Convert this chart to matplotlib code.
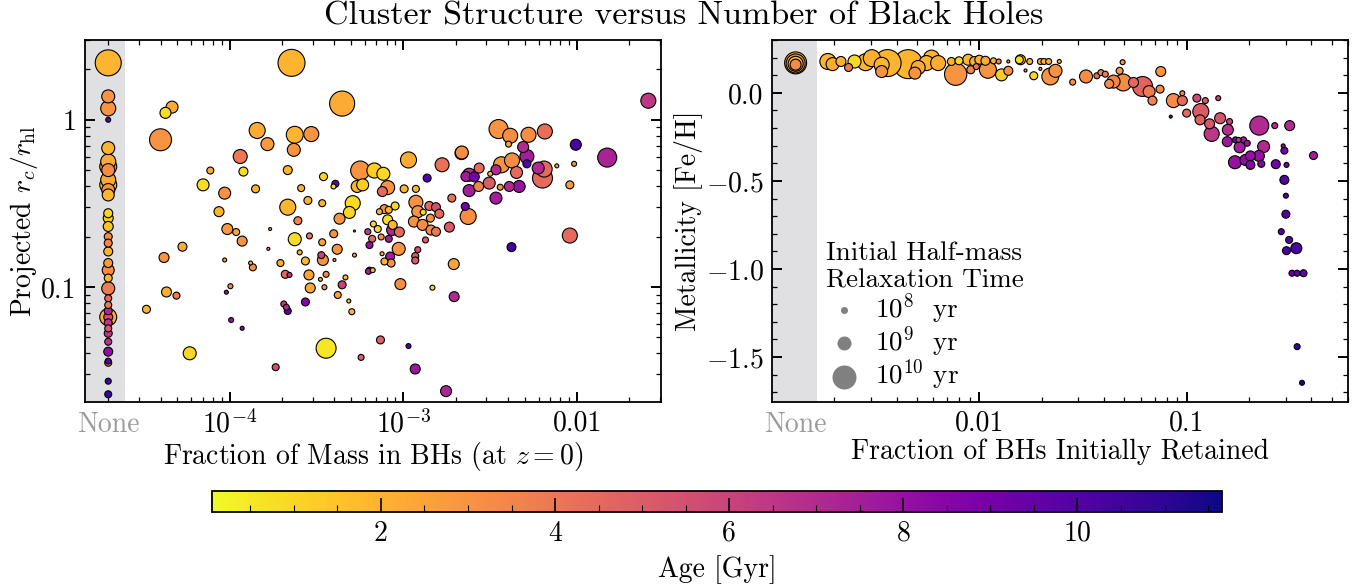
import numpy as np
import matplotlib
matplotlib.use('Agg')
import matplotlib.pyplot as plt
from matplotlib.colors import Normalize
from matplotlib.ticker import LogLocator, NullFormatter, MultipleLocator, FixedLocator, FixedFormatter

plt.rcParams['font.family'] = 'serif'
plt.rcParams['font.serif'] = ['cmr10']
plt.rcParams['mathtext.fontset'] = 'cm'
plt.rcParams['axes.formatter.use_mathtext'] = True
plt.rcParams['axes.unicode_minus'] = False
plt.rcParams['font.size'] = 20

#%% Data. Fraction 0 means "None".
# left panel: fraction of mass in BHs, r_c/r_hl, age [Gyr], log10 t_rh [yr]
left_fbh = [0] * 36 + [
    2.27e-4, 4.27e-5, 4.66e-5, 4.0e-5, 1.44e-4, 1.65e-4, 2.37e-4, 2.95e-4, 2.34e-4, 1.15e-4,
    7.74e-5, 1.2e-4, 2.16e-4, 7.03e-5, 1.41e-4, 9.36e-5, 2.58e-4, 2.16e-4, 2.82e-4, 3.47e-4,
    3.41e-4, 4.06e-4, 8.68e-5, 9.7e-5, 1.09e-4, 1.18e-4, 2.37e-4, 2.47e-4, 1.71e-4, 1.67e-4,
    2.88e-4, 3.41e-4, 5.35e-5, 4.19e-5, 4.33e-5, 4.94e-5, 3.32e-5, 9.36e-5, 1.32e-4, 1.36e-4,
    1.01e-4, 9.57e-5, 2.53e-4, 2.73e-4, 1.96e-4, 2.86e-4, 2.91e-4, 2.09e-4, 2.21e-4, 2.05e-4,
    2.12e-4, 2.16e-4, 2.73e-4, 1.02e-4, 1.18e-4, 5.89e-5, 1.84e-4, 3.33e-4, 3.51e-4, 3.59e-4,
    3.44e-4, 3.59e-4, 3.37e-4, 1.07e-3, 2.16e-3, 1.67e-3, 5.64e-4, 6.81e-4, 7.67e-4, 3.96e-4,
    5.42e-4, 5.83e-4, 8.12e-4, 7.57e-4, 1.01e-3, 1.18e-3, 1.37e-3, 5.11e-4, 4.89e-4, 4.29e-4,
    8.96e-4, 7.28e-4, 7.78e-4, 8.24e-4, 1.18e-3, 1.41e-3, 1.54e-3, 1.61e-3, 1.21e-3, 1.30e-3,
    1.90e-3, 1.84e-3, 2.36e-3, 2.27e-3, 1.15e-3, 1.29e-3, 1.44e-3, 1.54e-3, 1.43e-3, 8.12e-4,
    8.68e-4, 8.61e-4, 9.48e-4, 6.72e-4, 7.12e-4, 6.24e-4, 6.61e-4, 7.45e-4, 8.24e-4, 6.38e-4,
    3.97e-4, 5.23e-4, 4.16e-4, 9.4e-4, 1.21e-3, 1.17e-3, 1.17e-3, 1.34e-3, 8.39e-4, 7.78e-4,
    8.5e-4, 7.54e-4, 5.23e-4, 4.01e-4, 1.95e-3, 6.38e-4, 6.29e-4, 6.66e-4, 4.64e-4, 4.44e-4,
    4.19e-4, 4.85e-4, 5.05e-4, 9.61e-4, 1.47e-3, 1.96e-3, 4.19e-3, 3.67e-3, 2.39e-3, 2.29e-3,
    2.56e-3, 2.73e-3, 3.12e-3, 2.71e-3, 2.39e-3, 3.16e-3, 3.41e-3, 3.61e-3, 4.07e-3, 4.44e-4,
    0.0257, 3.53e-3, 4.12e-3, 4.03e-3, 5.25e-3, 6.52e-3, 9.83e-3, 0.0149, 7.64e-3, 9.61e-3,
    9.08e-3, 4.89e-3, 5.14e-3, 5.14e-3, 6.32e-3, 6.46e-3, 5.97e-3, 4.22e-3, 4.48e-3, 4.64e-3,
    2.17e-3, 9.08e-3, 7.38e-4, 5.71e-4, 1.07e-3, 1.17e-3, 1.76e-3, 3.41e-3]
left_rc = [
    2.19, 1.38, 1.17, 1.00, 0.677, 0.563, 0.525, 0.50, 0.437, 0.408,
    0.38, 0.355, 0.276, 0.258, 0.23, 0.20, 0.183, 0.163, 0.139, 0.126,
    0.113, 0.098, 0.0855, 0.078, 0.072, 0.066, 0.066, 0.061, 0.0565, 0.0528,
    0.047, 0.041, 0.0352, 0.036, 0.0273, 0.0228,
    2.19, 1.10, 1.19, 0.759, 0.863, 0.715, 0.813, 0.821, 0.661, 0.603,
    0.497, 0.49, 0.50, 0.408, 0.386, 0.364, 0.390, 0.300, 0.329, 0.457,
    0.317, 0.414, 0.282, 0.222, 0.213, 0.188, 0.193, 0.249, 0.222, 0.169,
    0.202, 0.185, 0.174, 0.150, 0.0933, 0.0887, 0.0735, 0.145, 0.139, 0.131,
    0.101, 0.093, 0.161, 0.143, 0.139, 0.118, 0.0986, 0.119, 0.118, 0.0791,
    0.0756, 0.0718, 0.0813, 0.0634, 0.0566, 0.0401, 0.0331, 0.111, 0.0996, 0.119,
    0.145, 0.043, 0.155, 0.575, 0.632, 0.538, 0.497, 0.497, 0.475, 0.399,
    0.399, 0.408, 0.393, 0.372, 0.386, 0.386, 0.448, 0.317, 0.279, 0.256,
    0.305, 0.282, 0.292, 0.289, 0.321, 0.305, 0.300, 0.274, 0.282, 0.280,
    0.340, 0.228, 0.264, 0.303, 0.246, 0.235, 0.219, 0.214, 0.258, 0.252,
    0.235, 0.219, 0.213, 0.238, 0.222, 0.214, 0.194, 0.199, 0.194, 0.178,
    0.208, 0.216, 0.168, 0.169, 0.167, 0.153, 0.144, 0.191, 0.152, 0.142,
    0.139, 0.158, 0.155, 0.145, 0.137, 0.126, 0.124, 0.126, 0.114, 0.103,
    0.0895, 0.0824, 0.0711, 0.104, 0.099, 0.0875, 0.173, 0.538, 0.469, 0.458,
    0.456, 0.514, 0.418, 0.399, 0.377, 0.475, 0.340, 0.395, 0.399, 1.25,
    1.30, 0.880, 0.802, 0.715, 0.813, 0.851, 0.709, 0.594, 0.530, 0.545,
    0.408, 0.687, 0.603, 0.545, 0.448, 0.507, 0.514, 0.571, 0.484, 0.399,
    0.637, 0.203, 0.0482, 0.0379, 0.0443, 0.0323, 0.0238, 0.502]
left_age = [
    2.0, 3.0, 3.0, 10.0, 2.0, 2.2, 3.0, 3.2, 2.3, 1.8,
    3.0, 2.0, 1.0, 1.2, 1.5, 3.2, 3.5, 2.0, 2.8, 3.3,
    2.0, 3.8, 4.5, 4.0, 7.0, 2.2, 5.5, 6.5, 5.0, 6.5,
    6.7, 8.2, 3.5, 10.0, 10.5, 10.8,
    2.0, 0.8, 2.2, 3.0, 2.2, 2.8, 2.0, 3.0, 3.0, 4.0,
    2.2, 0.8, 2.0, 0.8, 2.0, 3.0, 2.0, 2.0, 2.0, 1.0,
    2.0, 9.5, 2.0, 2.8, 2.3, 3.0, 0.8, 3.5, 3.0, 3.0,
    4.0, 2.5, 2.2, 3.0, 2.2, 3.8, 2.0, 2.5, 2.5, 3.0,
    3.2, 8.0, 2.0, 2.0, 2.2, 2.5, 2.3, 4.5, 6.5, 6.3,
    7.0, 9.5, 8.5, 8.0, 8.5, 1.0, 5.5, 2.5, 2.8, 3.5,
    3.0, 0.6, 6.0, 2.2, 4.0, 4.2, 3.0, 1.2, 0.9, 0.8,
    2.0, 1.2, 3.0, 4.5, 2.0, 2.0, 10.0, 0.9, 1.0, 3.0,
    1.0, 2.0, 3.0, 2.0, 3.0, 4.5, 5.5, 4.5, 3.0, 1.0,
    4.2, 5.0, 3.2, 9.0, 3.0, 3.2, 3.3, 4.0, 3.0, 0.8,
    2.0, 7.0, 4.5, 1.0, 1.0, 6.2, 4.5, 3.0, 7.5, 8.0,
    3.0, 3.0, 3.0, 3.0, 5.5, 5.0, 5.0, 4.8, 7.5, 2.0,
    3.0, 2.0, 2.5, 2.5, 2.5, 9.0, 7.5, 2.0, 2.0, 6.0,
    2.5, 2.0, 2.0, 3.2, 0.8, 7.0, 10.5, 3.0, 7.0, 7.5,
    9.0, 4.5, 5.0, 3.5, 7.5, 2.0, 7.5, 3.0, 7.0, 2.2,
    6.5, 3.0, 3.2, 2.5, 3.2, 4.3, 10.3, 7.3, 2.5, 3.0,
    2.8, 7.0, 7.5, 10.0, 4.5, 4.5, 7.0, 3.2, 4.5, 8.0,
    3.2, 4.5, 4.8, 5.0, 10.0, 7.8, 7.2, 7.0]
left_logtrh = [
    10.17, 8.88, 9.12, 7.59, 8.88, 9.12, 9.33, 8.88, 9.12, 9.33,
    8.88, 8.75, 8.33, 8.48, 8.48, 8.17, 8.17, 8.33, 8.33, 8.75,
    8.17, 8.88, 8.0, 8.0, 8.17, 9.33, 8.33, 8.17, 8.0, 8.17,
    8.0, 8.33, 8.0, 7.81, 7.81, 8.0,
    10.25, 8.62, 8.75, 9.82, 9.23, 8.88, 9.33, 9.12, 8.88, 9.0,
    8.0, 8.33, 8.33, 8.75, 8.17, 8.75, 8.0, 9.23, 8.17, 8.17,
    8.0, 8.0, 8.48, 8.62, 8.0, 8.48, 8.88, 8.17, 7.0, 7.0,
    7.81, 8.0, 8.33, 8.48, 8.48, 8.0, 8.17, 7.33, 7.33, 8.0,
    7.59, 7.33, 7.59, 8.17, 8.0, 8.48, 8.48, 8.17, 7.59, 7.81,
    7.81, 8.0, 8.17, 7.59, 7.33, 8.88, 8.0, 7.33, 7.59, 7.81,
    8.62, 9.63, 8.0, 9.23, 8.88, 9.0, 9.54, 9.12, 8.88, 7.59,
    8.75, 8.75, 9.0, 8.48, 8.17, 8.0, 8.17, 9.12, 8.75, 8.62,
    8.17, 7.81, 8.33, 8.0, 9.0, 8.33, 8.33, 8.33, 8.75, 7.81,
    8.17, 8.48, 9.23, 8.17, 8.62, 8.62, 8.48, 8.33, 8.17, 8.48,
    8.33, 8.62, 8.48, 7.81, 8.0, 7.81, 8.0, 7.81, 8.0, 8.0,
    8.17, 6.33, 8.48, 8.88, 7.81, 8.0, 8.0, 7.81, 8.33, 8.0,
    8.17, 7.33, 7.33, 7.0, 8.62, 7.81, 7.81, 7.59, 7.59, 8.17,
    8.0, 7.33, 7.81, 8.62, 7.59, 8.48, 8.33, 9.23, 8.88, 8.48,
    8.48, 8.48, 8.75, 8.48, 8.75, 7.59, 8.75, 7.81, 8.48, 10.09,
    9.12, 9.54, 9.12, 7.81, 9.12, 9.12, 8.62, 9.54, 7.33, 7.59,
    8.17, 8.62, 9.0, 8.17, 9.63, 9.23, 8.75, 9.12, 8.75, 8.75,
    8.88, 9.12, 8.17, 7.81, 7.59, 8.48, 8.62, 8.48]

# right panel: fraction of BHs initially retained, [Fe/H], age [Gyr], log10 t_rh [yr]
right_fret = [0] * 4 + [
    1.86e-3, 1.96e-3, 2.15e-3, 2.34e-3, 2.50e-3, 2.83e-3, 3.03e-3, 3.38e-3, 3.61e-3, 4.54e-3,
    5.07e-3, 5.56e-3, 5.88e-3, 6.33e-3, 3.38e-3, 4.89e-3, 7.33e-3, 7.98e-3, 7.69e-3, 8.83e-3,
    9.49e-3, 9.09e-3, 9.67e-3, 0.0100, 0.0107, 0.0110, 0.0128, 0.0138, 0.0117, 0.0124,
    0.0138, 0.0158, 0.0156, 0.0175, 0.0167, 0.0183, 0.0197, 0.0205, 0.0197, 0.0216,
    0.0220, 0.0233, 0.0243, 0.0282, 0.0327, 0.0369, 0.0386, 0.0405, 0.0444, 0.0475,
    0.0494, 0.0554, 0.0613, 0.0659, 0.0684, 0.0491, 0.0750, 0.0744, 0.0423, 0.0863,
    0.0953, 0.0953, 0.0838, 0.100, 0.112, 0.123, 0.142, 0.117, 0.116, 0.129,
    0.132, 0.145, 0.161, 0.158, 0.157, 0.180, 0.172, 0.188, 0.178, 0.196,
    0.224, 0.266, 0.314, 0.235, 0.223, 0.203, 0.192, 0.171, 0.203, 0.229,
    0.269, 0.292, 0.296, 0.303, 0.296, 0.301, 0.301, 0.286, 0.312, 0.303,
    0.338, 0.409, 0.322, 0.341, 0.366, 0.341, 0.360]
right_feh = [
    0.170, 0.167, 0.165, 0.160,
    0.178, 0.163, 0.178, 0.144, 0.178, 0.174, 0.197, 0.159, 0.169, 0.163,
    0.144, 0.169, 0.197, 0.169, 0.121, 0.112, 0.178, 0.182, 0.106, 0.188,
    0.178, 0.131, 0.149, 0.188, 0.182, 0.131, 0.102, 0.125, 0.182, 0.178,
    0.178, 0.188, 0.188, 0.178, 0.127, 0.097, 0.178, 0.178, 0.136, 0.178,
    0.093, 0.125, 0.178, 0.061, 0.093, 0.097, 0.115, 0.106, 0.064, 0.125,
    0.059, 0.059, 0.036, 0.007, -0.044, 0.174, 0.121, 0.021, 0.051, -0.044,
    -0.044, -0.002, -0.135, -0.115, -0.030, -0.044, -0.030, -0.106, -0.153, -0.176,
    -0.233, -0.144, -0.163, -0.210, -0.277, -0.309, -0.267, -0.267, -0.267, -0.286,
    -0.186, -0.186, -0.186, -0.305, -0.358, -0.358, -0.381, -0.394, -0.409, -0.403,
    -0.405, -0.301, -0.328, -0.409, -0.494, -0.584, -0.689, -0.788, -0.835, -0.896,
    -0.882, -0.356, -1.024, -1.024, -1.024, -1.441, -1.646]
right_age = [
    1.8, 2.5, 2.0, 3.3,
    2.0, 2.2, 2.0, 3.8, 0.9, 2.0, 2.1, 2.0, 2.0, 2.0,
    2.2, 2.0, 1.9, 2.2, 3.0, 3.0, 2.0, 1.0, 3.0, 2.0,
    2.2, 3.5, 4.0, 2.0, 2.2, 3.0, 1.2, 3.0, 2.0, 3.5,
    3.0, 2.2, 0.9, 2.0, 3.0, 1.0, 2.5, 2.0, 3.0, 2.3,
    3.0, 3.0, 2.0, 3.0, 3.2, 4.5, 3.5, 3.8, 3.5, 2.8,
    3.3, 4.5, 4.7, 3.8, 3.5, 3.0, 3.0, 3.3, 3.2, 3.3,
    4.5, 3.5, 9.0, 4.5, 5.7, 5.0, 6.0, 5.0, 4.8, 5.2,
    6.5, 5.3, 6.0, 6.8, 7.7, 7.5, 9.0, 7.5, 6.5, 8.0,
    7.0, 7.0, 7.0, 7.0, 8.0, 8.0, 8.2, 8.0, 8.5, 8.5,
    9.0, 8.5, 9.0, 9.0, 10.0, 10.0, 10.0, 10.0, 10.0, 10.2,
    10.3, 7.5, 9.5, 9.5, 9.5, 11.0, 11.5]
right_logtrh = [
    9.82, 9.54, 9.12, 8.62,
    9.23, 8.88, 8.48, 8.17, 8.88, 9.33, 9.33, 9.12, 10.25, 10.41,
    9.0, 9.12, 9.23, 9.12, 8.75, 8.75, 8.17, 8.17, 9.85, 8.62,
    8.48, 8.17, 7.81, 8.33, 8.33, 9.33, 8.75, 8.33, 7.81, 7.59,
    7.0, 8.48, 8.17, 7.81, 7.0, 8.17, 7.81, 7.81, 7.0, 7.81,
    9.33, 8.88, 7.33, 7.81, 8.88, 7.81, 7.81, 7.81, 8.88, 8.0,
    9.33, 8.48, 9.63, 8.75, 8.33, 7.59, 8.48, 8.17, 8.33, 9.0,
    8.48, 7.59, 7.0, 8.17, 8.17, 7.81, 7.59, 9.23, 8.48, 8.48,
    9.12, 8.62, 7.81, 8.62, 8.48, 8.62, 7.81, 7.81, 7.59, 7.81,
    9.54, 7.81, 8.48, 8.75, 8.62, 8.48, 8.62, 8.88, 8.33, 8.0,
    8.33, 7.33, 8.0, 7.59, 8.33, 7.59, 8.17, 7.81, 8.0, 8.17,
    8.62, 8.17, 7.81, 7.81, 8.0, 7.81, 7.59]

legend_logtrh = [8, 9, 10]
legend_labels = [r'$10^{8}$  yr', r'$10^{9}$  yr', r'$10^{10}$ yr']


def marker_area(logt):
    # marker diameter grows with the initial half-mass relaxation time
    u = np.asarray(logt) - 8.0
    d_px = 7.0 + 5.5 * u + 1.5 * u ** 2
    return (d_px * 0.72) ** 2


cmap = plt.get_cmap('plasma_r')
norm = Normalize(vmin=0.06, vmax=11.66)


def panel(ax, frac, yval, age, logt, none_x, band_edge):
    frac = np.asarray(frac, dtype=float)
    x = np.where(frac > 0, frac, none_x)
    s = marker_area(logt)
    order = np.argsort(-s, kind='stable')
    ax.axvspan(1e-9, band_edge, color='#e0e0e3', lw=0, zorder=0)
    ax.scatter(x[order], np.asarray(yval)[order], s=s[order],
               c=np.asarray(age)[order], cmap=cmap, norm=norm,
               edgecolors='k', linewidths=0.8, zorder=2)
    ax.set_xscale('log')
    ax.tick_params(which='both', direction='in', top=True, right=True)
    ax.tick_params(which='major', length=7, width=1.4, pad=6)
    ax.tick_params(which='minor', length=3.5, width=0.9)
    ax.xaxis.set_minor_locator(LogLocator(base=10, subs=np.arange(2, 10), numticks=20))
    ax.xaxis.set_minor_formatter(NullFormatter())
    ax.text(none_x, -0.028, 'None', color='#9a9a9a', ha='center', va='top',
            transform=ax.get_xaxis_transform())


fig = plt.figure(figsize=(13.68, 5.85), dpi=100)
ax1 = fig.add_axes([85 / 1368, 1 - 402 / 585, 576 / 1368, 362 / 585])
ax2 = fig.add_axes([772 / 1368, 1 - 402 / 585, 576 / 1368, 362 / 585])
cax = fig.add_axes([212 / 1368, 1 - 512 / 585, 1010 / 1368, 21 / 585])

for a in (ax1, ax2, cax):
    for sp in a.spines.values():
        sp.set_linewidth(1.3)

#%% Left panel.
panel(ax1, left_fbh, left_rc, left_age, left_logtrh, 2e-5, 2.5e-5)
ax1.set_yscale('log')
ax1.set_xlim(1.47e-5, 0.0304)
ax1.set_ylim(0.0205, 3.0)
ax1.xaxis.set_major_locator(FixedLocator([1e-4, 1e-3, 1e-2]))
ax1.xaxis.set_major_formatter(FixedFormatter([r'$10^{-4}$', r'$10^{-3}$', '0.01']))
ax1.yaxis.set_major_locator(FixedLocator([0.1, 1]))
ax1.yaxis.set_major_formatter(FixedFormatter(['0.1', '1']))
ax1.yaxis.set_minor_locator(LogLocator(base=10, subs=np.arange(2, 10), numticks=20))
ax1.yaxis.set_minor_formatter(NullFormatter())
ax1.set_xlabel(r'Fraction of Mass in BHs (at $z=0$)', labelpad=1)
ax1.set_ylabel(r'Projected $r_c/r_{\mathrm{hl}}$', labelpad=1)

#%% Right panel.
panel(ax2, right_fret, right_feh, right_age, right_logtrh, 1.3e-3, 1.64e-3)
ax2.set_xlim(1.0e-3, 0.60)
ax2.set_ylim(-1.755, 0.30)
ax2.xaxis.set_major_locator(FixedLocator([1e-2, 1e-1]))
ax2.xaxis.set_major_formatter(FixedFormatter(['0.01', '0.1']))
ax2.yaxis.set_major_locator(FixedLocator([-1.5, -1.0, -0.5, 0.0]))
ax2.yaxis.set_major_formatter(FixedFormatter([r'$-1.5$', r'$-1.0$', r'$-0.5$', '0.0']))
ax2.yaxis.set_minor_locator(MultipleLocator(0.1))
ax2.set_xlabel('Fraction of BHs Initially Retained', labelpad=1)
ax2.set_ylabel('Metallicity [Fe/H]', labelpad=2)

handles = [ax2.scatter([], [], s=marker_area(l), color='#808080', lw=0)
           for l in legend_logtrh]
ax2.legend(handles, legend_labels, title='Initial Half-mass\nRelaxation Time',
           loc='upper left', bbox_to_anchor=(0.075, 0.475), frameon=False,
           alignment='left', handlelength=1.3, handletextpad=0.5,
           labelspacing=-0.05, borderaxespad=0,
           title_fontsize=19.5, fontsize=19.5)

#%% Colorbar.
sm = plt.cm.ScalarMappable(norm=norm, cmap=cmap)
cb = fig.colorbar(sm, cax=cax, orientation='horizontal')
cb.outline.set_linewidth(1.3)
cb.set_ticks([2, 4, 6, 8, 10])
cb.set_ticklabels(['2', '4', '6', '8', '10'])
cax.xaxis.set_minor_locator(MultipleLocator(0.5))
cax.tick_params(which='both', direction='in', bottom=True, top=False)
cax.tick_params(which='major', length=10, width=1.2, pad=6)
cax.tick_params(which='minor', length=5, width=0.8)
cb.set_label('Age [Gyr]', labelpad=6)

fig.suptitle('Cluster Structure versus Number of Black Holes', y=0.972, va='center', fontsize=24.5)

fig.savefig('out.png', dpi=100)
